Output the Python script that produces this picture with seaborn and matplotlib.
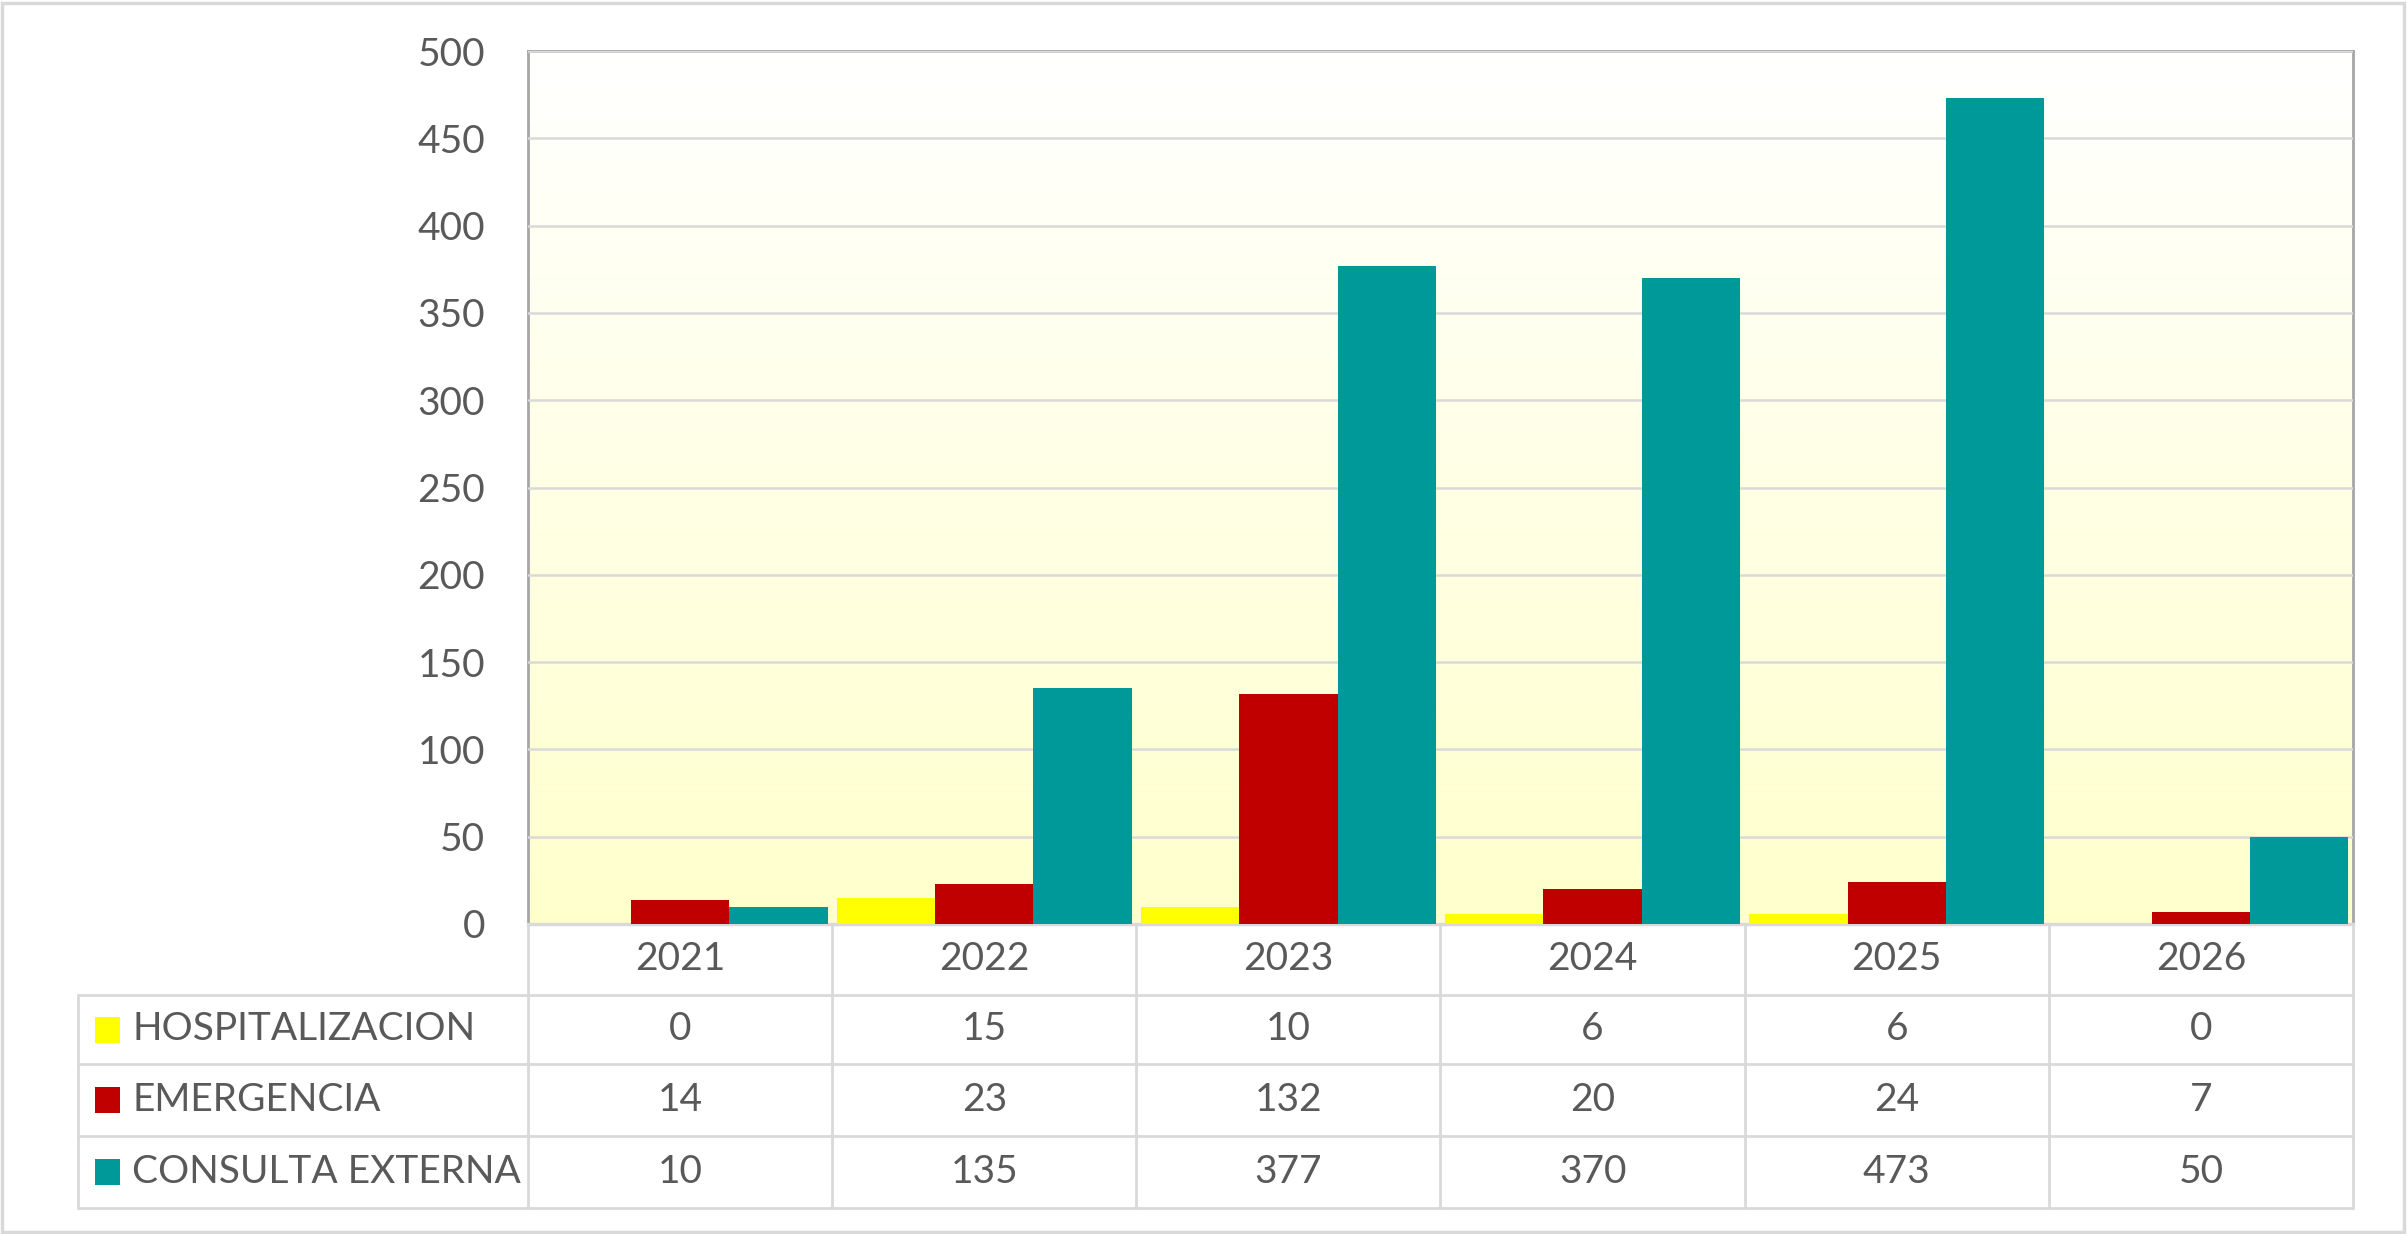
import pandas as pd
import numpy as np
import matplotlib.pyplot as plt
import matplotlib.transforms as mtransforms
from matplotlib.colors import LinearSegmentedColormap
from matplotlib.lines import Line2D
from matplotlib.patches import Rectangle
import seaborn as sns

# Data
years = ["2021", "2022", "2023", "2024", "2025", "2026"]
series = ["HOSPITALIZACION", "EMERGENCIA", "CONSULTA EXTERNA"]
hospitalizacion = [0, 15, 10, 6, 6, 0]
emergencia = [14, 23, 132, 20, 24, 7]
consulta_externa = [10, 135, 377, 370, 473, 50]
colors = ["#FFFF00", "#C00000", "#009999"]
yticks = list(range(0, 501, 50))

df = pd.DataFrame({
    "year": years * 3,
    "serie": [series[0]] * 6 + [series[1]] * 6 + [series[2]] * 6,
    "value": hospitalizacion + emergencia + consulta_externa,
})

sns.set_theme(style="white")
plt.rcParams["font.family"] = ["Lato", "DejaVu Sans"]
text_color = "#595959"
line_gray = "#D9D9D9"
W, H = 2407, 1234

fig = plt.figure(figsize=(W / 100, H / 100), dpi=100)
fig.patch.set_facecolor("white")
ax = fig.add_axes([528 / W, 1 - 924 / H, (2353 - 528) / W, (924 - 51) / H])

# gradient plot background
grad = LinearSegmentedColormap.from_list("bg", ["#FFFFCC", "#FFFFFF"])
ax.imshow(np.linspace(0, 1, 256).reshape(-1, 1), cmap=grad, origin="lower",
          extent=(-0.5, 5.5, 0, 500), aspect="auto", zorder=0)

sns.barplot(data=df, x="year", y="value", hue="serie", hue_order=series,
            palette=colors, saturation=1, width=0.97, linewidth=0,
            legend=False, ax=ax, zorder=3)

ax.set_xlim(-0.5, 5.5)
ax.set_ylim(0, 500)
ax.set_yticks(yticks)
ax.set_yticklabels([str(v) for v in yticks], fontsize=28, color=text_color)
ax.tick_params(axis="y", length=0, pad=31)
ax.set_xticks([])
ax.set_xlabel("")
ax.set_ylabel("")
ax.yaxis.grid(True, color=line_gray, linewidth=1.8, zorder=1)
ax.set_axisbelow(False)
for gl in ax.get_ygridlines():
    gl.set_zorder(1)
for s in ["top", "left", "right"]:
    ax.spines[s].set_color("#A6A6A6")
    ax.spines[s].set_linewidth(2)
ax.spines["bottom"].set_color(line_gray)
ax.spines["bottom"].set_linewidth(2.5)

# data table under the chart
tr = mtransforms.blended_transform_factory(ax.transData, fig.transFigure)
rows_px = [924, 995, 1064, 1136, 1208]
rows_y = [1 - p / H for p in rows_px]

for y in rows_y[1:]:
    fig.add_artist(Line2D([78 / W, 2353 / W], [y, y], color=line_gray, lw=2,
                          transform=fig.transFigure))
fig.add_artist(Line2D([78 / W, 78 / W], [rows_y[1], rows_y[-1]], color=line_gray,
                      lw=2, transform=fig.transFigure))
for i in range(len(years) + 1):
    fig.add_artist(Line2D([i - 0.5, i - 0.5], [rows_y[0], rows_y[-1]],
                          color=line_gray, lw=2, transform=tr))

for i, yr in enumerate(years):
    fig.text(i, (rows_y[0] + rows_y[1]) / 2, yr, transform=tr, ha="center",
             va="center", fontsize=28, color=text_color)

values = [hospitalizacion, emergencia, consulta_externa]
for r, (name, vals, c) in enumerate(zip(series, values, colors)):
    yc = (rows_y[r + 1] + rows_y[r + 2]) / 2
    fig.add_artist(Rectangle((95 / W, yc - 13 / H), 25 / W, 26 / H,
                             facecolor=c, edgecolor="none",
                             transform=fig.transFigure))
    fig.text(132 / W, yc, name, ha="left", va="center", fontsize=28,
             color=text_color)
    for i, v in enumerate(vals):
        fig.text(i, yc, str(v), transform=tr, ha="center", va="center",
                 fontsize=28, color=text_color)

# outer chart border
fig.add_artist(Rectangle((2 / W, 2 / H), (W - 5) / W, (H - 5) / H, fill=False,
                         edgecolor=line_gray, lw=2.5, transform=fig.transFigure))

fig.savefig("out.png", dpi=100)
